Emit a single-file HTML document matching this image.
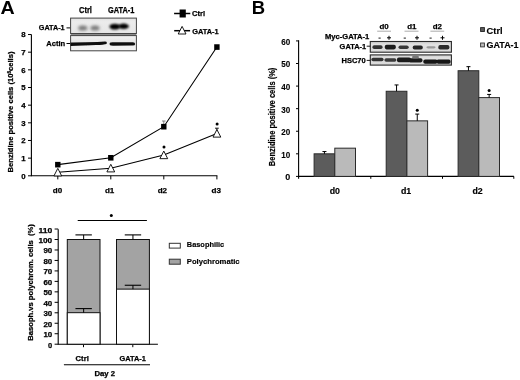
<!DOCTYPE html>
<html><head><meta charset="utf-8"><style>
html,body{margin:0;padding:0;background:#fff;}
svg{display:block;will-change:transform;filter:blur(0.25px);font-family:"Liberation Sans", sans-serif;}
</style></head><body>
<svg width="520" height="380" viewBox="0 0 520 380">
<rect width="520" height="380" fill="#fff"/>
<defs><filter id="bl" x="-50%" y="-50%" width="200%" height="200%"><feGaussianBlur stdDeviation="1.5"/></filter><filter id="bl2" x="-50%" y="-50%" width="200%" height="200%"><feGaussianBlur stdDeviation="0.7"/></filter><filter id="bl4" x="-50%" y="-50%" width="200%" height="200%"><feGaussianBlur stdDeviation="1.1"/></filter><filter id="bl3" x="-50%" y="-50%" width="200%" height="200%"><feGaussianBlur stdDeviation="0.45"/></filter><linearGradient id="gA2" x1="0" y1="0" x2="0" y2="1"><stop offset="0" stop-color="#f2f2f2"/><stop offset="0.4" stop-color="#e8e8e8"/><stop offset="0.7" stop-color="#f0f0f0"/><stop offset="1" stop-color="#f4f4f4"/></linearGradient><linearGradient id="gA" x1="0" y1="0" x2="0" y2="1"><stop offset="0" stop-color="#e2e2e2"/><stop offset="0.25" stop-color="#ececec"/><stop offset="1" stop-color="#e6e6e6"/></linearGradient></defs>
<text x="0.6" y="14.0" font-size="18.5" text-anchor="start" font-weight="bold" fill="#000" textLength="14.2" lengthAdjust="spacingAndGlyphs" >A</text>
<text x="251.8" y="13.9" font-size="18.5" text-anchor="start" font-weight="bold" fill="#000" >B</text>
<line x1="31.4" y1="34.4" x2="31.4" y2="176.3" stroke="#000" stroke-width="1.1"/>
<line x1="28.0" y1="175.8" x2="31.4" y2="175.8" stroke="#000" stroke-width="1"/>
<text x="25.5" y="178.55" font-size="7.8" text-anchor="end" font-weight="bold" fill="#000" stroke="#000" stroke-width="0.25" >0</text>
<line x1="28.0" y1="158.14000000000001" x2="31.4" y2="158.14000000000001" stroke="#000" stroke-width="1"/>
<text x="25.5" y="160.89000000000001" font-size="7.8" text-anchor="end" font-weight="bold" fill="#000" stroke="#000" stroke-width="0.25" >1</text>
<line x1="28.0" y1="140.48000000000002" x2="31.4" y2="140.48000000000002" stroke="#000" stroke-width="1"/>
<text x="25.5" y="143.23000000000002" font-size="7.8" text-anchor="end" font-weight="bold" fill="#000" stroke="#000" stroke-width="0.25" >2</text>
<line x1="28.0" y1="122.82000000000001" x2="31.4" y2="122.82000000000001" stroke="#000" stroke-width="1"/>
<text x="25.5" y="125.57000000000001" font-size="7.8" text-anchor="end" font-weight="bold" fill="#000" stroke="#000" stroke-width="0.25" >3</text>
<line x1="28.0" y1="105.16000000000001" x2="31.4" y2="105.16000000000001" stroke="#000" stroke-width="1"/>
<text x="25.5" y="107.91000000000001" font-size="7.8" text-anchor="end" font-weight="bold" fill="#000" stroke="#000" stroke-width="0.25" >4</text>
<line x1="28.0" y1="87.50000000000001" x2="31.4" y2="87.50000000000001" stroke="#000" stroke-width="1"/>
<text x="25.5" y="90.25000000000001" font-size="7.8" text-anchor="end" font-weight="bold" fill="#000" stroke="#000" stroke-width="0.25" >5</text>
<line x1="28.0" y1="69.84" x2="31.4" y2="69.84" stroke="#000" stroke-width="1"/>
<text x="25.5" y="72.59" font-size="7.8" text-anchor="end" font-weight="bold" fill="#000" stroke="#000" stroke-width="0.25" >6</text>
<line x1="28.0" y1="52.18000000000001" x2="31.4" y2="52.18000000000001" stroke="#000" stroke-width="1"/>
<text x="25.5" y="54.93000000000001" font-size="7.8" text-anchor="end" font-weight="bold" fill="#000" stroke="#000" stroke-width="0.25" >7</text>
<line x1="28.0" y1="34.52000000000001" x2="31.4" y2="34.52000000000001" stroke="#000" stroke-width="1"/>
<text x="25.5" y="37.27000000000001" font-size="7.8" text-anchor="end" font-weight="bold" fill="#000" stroke="#000" stroke-width="0.25" >8</text>
<line x1="31.4" y1="175.8" x2="217.4" y2="175.8" stroke="#000" stroke-width="1.1"/>
<line x1="57.8" y1="175.8" x2="57.8" y2="179.4" stroke="#000" stroke-width="1"/>
<text x="57.5" y="192.8" font-size="7.8" text-anchor="middle" font-weight="bold" fill="#000" stroke="#000" stroke-width="0.25" textLength="9.4" lengthAdjust="spacingAndGlyphs" >d0</text>
<line x1="110.8" y1="175.8" x2="110.8" y2="179.4" stroke="#000" stroke-width="1"/>
<text x="109.6" y="192.8" font-size="7.8" text-anchor="middle" font-weight="bold" fill="#000" stroke="#000" stroke-width="0.25" textLength="9.4" lengthAdjust="spacingAndGlyphs" >d1</text>
<line x1="163.8" y1="175.8" x2="163.8" y2="179.4" stroke="#000" stroke-width="1"/>
<text x="162.4" y="192.8" font-size="7.8" text-anchor="middle" font-weight="bold" fill="#000" stroke="#000" stroke-width="0.25" textLength="9.4" lengthAdjust="spacingAndGlyphs" >d2</text>
<line x1="216.9" y1="175.8" x2="216.9" y2="179.4" stroke="#000" stroke-width="1"/>
<text x="216.3" y="192.8" font-size="7.8" text-anchor="middle" font-weight="bold" fill="#000" stroke="#000" stroke-width="0.25" textLength="9.4" lengthAdjust="spacingAndGlyphs" >d3</text>
<text transform="translate(13.4,112.0) rotate(-90)" font-size="7.6" font-weight="bold" stroke="#000" stroke-width="0.25" text-anchor="middle" textLength="121" lengthAdjust="spacingAndGlyphs">Benzidine positive cells (10<tspan font-size="4.6" dy="-2.4">6</tspan><tspan dy="2.4">cells)</tspan></text>
<polyline points="57.8,164.67 110.8,157.79 163.8,126.71 216.9,47.06" fill="none" stroke="#000" stroke-width="1.1"/>
<polyline points="57.8,172.27 110.8,168.21 163.8,154.96 216.9,133.42" fill="none" stroke="#000" stroke-width="1.1"/>
<line x1="163.8" y1="126.70520000000002" x2="163.8" y2="121" stroke="#666" stroke-width="0.8"/>
<line x1="162" y1="121" x2="165.6" y2="121" stroke="#666" stroke-width="0.8"/>
<line x1="216.9" y1="133.416" x2="216.9" y2="128.2" stroke="#000" stroke-width="0.9"/>
<line x1="215" y1="128.2" x2="218.8" y2="128.2" stroke="#000" stroke-width="0.9"/>
<rect x="55.099999999999994" y="161.8742" width="5.4" height="5.6" fill="#000"/>
<rect x="108.1" y="154.9868" width="5.4" height="5.6" fill="#000"/>
<rect x="161.10000000000002" y="123.90520000000002" width="5.4" height="5.6" fill="#000"/>
<rect x="214.20000000000002" y="44.258600000000015" width="5.4" height="5.6" fill="#000"/>
<polygon points="57.8,168.368 53.9,175.968 61.699999999999996,175.968" fill="#fff" stroke="#000" stroke-width="0.9"/>
<polygon points="110.8,164.30620000000002 106.89999999999999,171.9062 114.7,171.9062" fill="#fff" stroke="#000" stroke-width="0.9"/>
<polygon points="163.8,151.0612 159.9,158.6612 167.70000000000002,158.6612" fill="#fff" stroke="#000" stroke-width="0.9"/>
<polygon points="216.9,129.516 213.0,137.11599999999999 220.8,137.11599999999999" fill="#fff" stroke="#000" stroke-width="0.9"/>
<circle cx="164" cy="146.9" r="1.5" fill="#000"/>
<circle cx="217.1" cy="123.9" r="1.5" fill="#000"/>
<line x1="174.1" y1="13.5" x2="190.3" y2="13.5" stroke="#000" stroke-width="1.5"/>
<rect x="179.6" y="9.5" width="6.2" height="8.0" fill="#000"/>
<text x="192.1" y="15.7" font-size="7.8" text-anchor="start" font-weight="bold" fill="#000" stroke="#000" stroke-width="0.25" textLength="13.0" lengthAdjust="spacingAndGlyphs" >Ctrl</text>
<line x1="174.2" y1="30.7" x2="190.1" y2="30.7" stroke="#000" stroke-width="1.5"/>
<polygon points="182.1,26.400000000000002 178.2,34.0 186.0,34.0" fill="#fff" stroke="#000" stroke-width="0.9"/>
<text x="192.2" y="34.2" font-size="7.3" text-anchor="start" font-weight="bold" fill="#000" stroke="#000" stroke-width="0.25" textLength="26.4" lengthAdjust="spacingAndGlyphs" >GATA-1</text>
<rect x="70.6" y="33.6" width="65.8" height="2.2" fill="#8a8a8a"/>
<rect x="70.6" y="18.1" width="65.8" height="15.4" fill="url(#gA)" stroke="#444" stroke-width="1.0"/>
<ellipse cx="82.8" cy="28" rx="4.6" ry="2.6" fill="#7a7a7a" filter="url(#bl)"/>
<ellipse cx="95" cy="28" rx="4.6" ry="2.6" fill="#7a7a7a" filter="url(#bl)"/>
<ellipse cx="114.8" cy="26.6" rx="5.4" ry="2.9" fill="#000" filter="url(#bl4)"/>
<ellipse cx="123.6" cy="26.3" rx="5.2" ry="2.7" fill="#000" filter="url(#bl4)"/>
<rect x="70.6" y="35.6" width="65.8" height="15.2" fill="url(#gA2)" stroke="#444" stroke-width="1.0"/>
<path d="M70.6,42.5 L85,42.3 Q100,42.0 104.5,41.6 Q106.3,41.4 106.8,42.0 L106.6,43.9 Q104,44.6 96,45.1 Q85,45.8 70.6,45.9 Z" fill="#111" filter="url(#bl3)"/>
<path d="M109.6,42.9 Q110.4,42.2 113,42.3 L133,42.3 Q135,42.4 135.2,43.9 Q135,45.6 133,45.6 L113,45.8 Q110.4,45.7 109.8,45.0 Z" fill="#111" filter="url(#bl3)"/>
<text x="79" y="13.25" font-size="8.3" text-anchor="start" font-weight="bold" fill="#000" stroke="#000" stroke-width="0.25" textLength="12.9" lengthAdjust="spacingAndGlyphs" >Ctrl</text>
<text x="108" y="13.25" font-size="8.3" text-anchor="start" font-weight="bold" fill="#000" stroke="#000" stroke-width="0.25" textLength="26.4" lengthAdjust="spacingAndGlyphs" >GATA-1</text>
<text x="38.8" y="30" font-size="7.3" text-anchor="start" font-weight="bold" fill="#000" stroke="#000" stroke-width="0.25" textLength="25.8" lengthAdjust="spacingAndGlyphs" >GATA-1</text>
<text x="46.3" y="46.2" font-size="7.3" text-anchor="start" font-weight="bold" fill="#000" stroke="#000" stroke-width="0.25" textLength="18.9" lengthAdjust="spacingAndGlyphs" >Actin</text>
<line x1="66.5" y1="27.9" x2="70.1" y2="27.9" stroke="#000" stroke-width="1"/>
<line x1="66.5" y1="43.5" x2="70.1" y2="43.5" stroke="#000" stroke-width="1"/>
<line x1="58.2" y1="229.2" x2="58.2" y2="344.7" stroke="#000" stroke-width="1.1"/>
<line x1="54.6" y1="344.2" x2="58.2" y2="344.2" stroke="#000" stroke-width="1"/>
<text x="52.2" y="347.7" font-size="7.5" text-anchor="end" font-weight="bold" fill="#000" stroke="#000" stroke-width="0.25" >0</text>
<line x1="54.6" y1="333.73" x2="58.2" y2="333.73" stroke="#000" stroke-width="1"/>
<text x="52.2" y="337.23" font-size="7.5" text-anchor="end" font-weight="bold" fill="#000" stroke="#000" stroke-width="0.25" textLength="8.8" lengthAdjust="spacingAndGlyphs" >10</text>
<line x1="54.6" y1="323.26" x2="58.2" y2="323.26" stroke="#000" stroke-width="1"/>
<text x="52.2" y="326.76" font-size="7.5" text-anchor="end" font-weight="bold" fill="#000" stroke="#000" stroke-width="0.25" textLength="8.8" lengthAdjust="spacingAndGlyphs" >20</text>
<line x1="54.6" y1="312.78999999999996" x2="58.2" y2="312.78999999999996" stroke="#000" stroke-width="1"/>
<text x="52.2" y="316.28999999999996" font-size="7.5" text-anchor="end" font-weight="bold" fill="#000" stroke="#000" stroke-width="0.25" textLength="8.8" lengthAdjust="spacingAndGlyphs" >30</text>
<line x1="54.6" y1="302.32" x2="58.2" y2="302.32" stroke="#000" stroke-width="1"/>
<text x="52.2" y="305.82" font-size="7.5" text-anchor="end" font-weight="bold" fill="#000" stroke="#000" stroke-width="0.25" textLength="8.8" lengthAdjust="spacingAndGlyphs" >40</text>
<line x1="54.6" y1="291.85" x2="58.2" y2="291.85" stroke="#000" stroke-width="1"/>
<text x="52.2" y="295.35" font-size="7.5" text-anchor="end" font-weight="bold" fill="#000" stroke="#000" stroke-width="0.25" textLength="8.8" lengthAdjust="spacingAndGlyphs" >50</text>
<line x1="54.6" y1="281.38" x2="58.2" y2="281.38" stroke="#000" stroke-width="1"/>
<text x="52.2" y="284.88" font-size="7.5" text-anchor="end" font-weight="bold" fill="#000" stroke="#000" stroke-width="0.25" textLength="8.8" lengthAdjust="spacingAndGlyphs" >60</text>
<line x1="54.6" y1="270.90999999999997" x2="58.2" y2="270.90999999999997" stroke="#000" stroke-width="1"/>
<text x="52.2" y="274.40999999999997" font-size="7.5" text-anchor="end" font-weight="bold" fill="#000" stroke="#000" stroke-width="0.25" textLength="8.8" lengthAdjust="spacingAndGlyphs" >70</text>
<line x1="54.6" y1="260.44" x2="58.2" y2="260.44" stroke="#000" stroke-width="1"/>
<text x="52.2" y="263.94" font-size="7.5" text-anchor="end" font-weight="bold" fill="#000" stroke="#000" stroke-width="0.25" textLength="8.8" lengthAdjust="spacingAndGlyphs" >80</text>
<line x1="54.6" y1="249.97" x2="58.2" y2="249.97" stroke="#000" stroke-width="1"/>
<text x="52.2" y="253.47" font-size="7.5" text-anchor="end" font-weight="bold" fill="#000" stroke="#000" stroke-width="0.25" textLength="8.8" lengthAdjust="spacingAndGlyphs" >90</text>
<line x1="54.6" y1="239.5" x2="58.2" y2="239.5" stroke="#000" stroke-width="1"/>
<text x="52.2" y="243.0" font-size="7.5" text-anchor="end" font-weight="bold" fill="#000" stroke="#000" stroke-width="0.25" textLength="13.8" lengthAdjust="spacingAndGlyphs" >100</text>
<line x1="54.6" y1="229.03" x2="58.2" y2="229.03" stroke="#000" stroke-width="1"/>
<text x="52.2" y="232.53" font-size="7.5" text-anchor="end" font-weight="bold" fill="#000" stroke="#000" stroke-width="0.25" textLength="13.8" lengthAdjust="spacingAndGlyphs" >110</text>
<line x1="58.2" y1="344.2" x2="157.9" y2="344.2" stroke="#000" stroke-width="1.1"/>
<line x1="83.5" y1="344.2" x2="83.5" y2="347.2" stroke="#000" stroke-width="1"/>
<line x1="132.8" y1="344.2" x2="132.8" y2="347.2" stroke="#000" stroke-width="1"/>
<rect x="67.3" y="239.5" width="32.7" height="104.69999999999999" fill="#a3a3a3" stroke="#111" stroke-width="1"/>
<rect x="67.3" y="312.6853" width="32.7" height="31.514699999999998" fill="#fff" stroke="#111" stroke-width="1"/>
<line x1="83.65" y1="239.5" x2="83.65" y2="234.89319999999998" stroke="#000" stroke-width="1"/>
<line x1="75.45" y1="234.89319999999998" x2="91.85000000000001" y2="234.89319999999998" stroke="#000" stroke-width="1.1"/>
<line x1="83.65" y1="312.6853" x2="83.65" y2="308.602" stroke="#000" stroke-width="1"/>
<line x1="75.45" y1="308.602" x2="91.85000000000001" y2="308.602" stroke="#000" stroke-width="1.1"/>
<rect x="116.5" y="239.5" width="32.900000000000006" height="104.69999999999999" fill="#a3a3a3" stroke="#111" stroke-width="1"/>
<rect x="116.5" y="289.1278" width="32.900000000000006" height="55.072199999999995" fill="#fff" stroke="#111" stroke-width="1"/>
<line x1="132.95" y1="239.5" x2="132.95" y2="234.89319999999998" stroke="#000" stroke-width="1"/>
<line x1="124.74999999999999" y1="234.89319999999998" x2="141.14999999999998" y2="234.89319999999998" stroke="#000" stroke-width="1.1"/>
<line x1="132.95" y1="289.1278" x2="132.95" y2="285.2539" stroke="#000" stroke-width="1"/>
<line x1="124.74999999999999" y1="285.2539" x2="141.14999999999998" y2="285.2539" stroke="#000" stroke-width="1.1"/>
<line x1="77.7" y1="220.5" x2="146.9" y2="220.5" stroke="#000" stroke-width="1.2"/>
<circle cx="111.3" cy="215.6" r="1.5" fill="#000"/>
<text x="82.2" y="360.9" font-size="7.3" text-anchor="middle" font-weight="bold" fill="#000" stroke="#000" stroke-width="0.25" textLength="13.2" lengthAdjust="spacingAndGlyphs" >Ctrl</text>
<text x="132.7" y="360.9" font-size="7.3" text-anchor="middle" font-weight="bold" fill="#000" stroke="#000" stroke-width="0.25" textLength="26.4" lengthAdjust="spacingAndGlyphs" >GATA-1</text>
<line x1="63.9" y1="364.8" x2="150" y2="364.8" stroke="#000" stroke-width="1.1"/>
<text x="104.7" y="376.2" font-size="7.3" text-anchor="middle" font-weight="bold" fill="#000" stroke="#000" stroke-width="0.25" textLength="20.6" lengthAdjust="spacingAndGlyphs" >Day 2</text>
<text transform="translate(33.3,282.4) rotate(-90)" font-size="7.5" font-weight="bold" stroke="#000" stroke-width="0.25" text-anchor="middle" textLength="116.5" lengthAdjust="spacingAndGlyphs">Basoph.vs polychrom. cells&#160; (%)</text>
<rect x="169.3" y="243.3" width="11" height="4.8" fill="#fff" stroke="#333" stroke-width="1"/>
<rect x="169.3" y="259.2" width="11" height="5" fill="#a3a3a3" stroke="#333" stroke-width="1"/>
<g transform="translate(186.8,247.2) scale(1,1.07)"><text x="0" y="0" font-size="7.4" font-weight="bold" stroke="#000" stroke-width="0.15" textLength="37.4" lengthAdjust="spacingAndGlyphs">Basophilic</text></g>
<g transform="translate(186.8,263.6) scale(1,1.07)"><text x="0" y="0" font-size="7.4" font-weight="bold" stroke="#000" stroke-width="0.15" textLength="52.8" lengthAdjust="spacingAndGlyphs">Polychromatic</text></g>
<line x1="298.6" y1="40.3" x2="298.6" y2="178.70000000000002" stroke="#000" stroke-width="1.1"/>
<line x1="296.0" y1="176.4" x2="298.6" y2="176.4" stroke="#000" stroke-width="1"/>
<text x="290.2" y="180.3" font-size="9" text-anchor="end" font-weight="bold" fill="#000" stroke="#000" stroke-width="0.1" >0</text>
<line x1="296.0" y1="153.82" x2="298.6" y2="153.82" stroke="#000" stroke-width="1"/>
<text x="290.2" y="157.72" font-size="9" text-anchor="end" font-weight="bold" fill="#000" stroke="#000" stroke-width="0.1" textLength="9.0" lengthAdjust="spacingAndGlyphs" >10</text>
<line x1="296.0" y1="131.24" x2="298.6" y2="131.24" stroke="#000" stroke-width="1"/>
<text x="290.2" y="135.14000000000001" font-size="9" text-anchor="end" font-weight="bold" fill="#000" stroke="#000" stroke-width="0.1" textLength="9.0" lengthAdjust="spacingAndGlyphs" >20</text>
<line x1="296.0" y1="108.66000000000001" x2="298.6" y2="108.66000000000001" stroke="#000" stroke-width="1"/>
<text x="290.2" y="112.56000000000002" font-size="9" text-anchor="end" font-weight="bold" fill="#000" stroke="#000" stroke-width="0.1" textLength="9.0" lengthAdjust="spacingAndGlyphs" >30</text>
<line x1="296.0" y1="86.08000000000001" x2="298.6" y2="86.08000000000001" stroke="#000" stroke-width="1"/>
<text x="290.2" y="89.98000000000002" font-size="9" text-anchor="end" font-weight="bold" fill="#000" stroke="#000" stroke-width="0.1" textLength="9.0" lengthAdjust="spacingAndGlyphs" >40</text>
<line x1="296.0" y1="63.5" x2="298.6" y2="63.5" stroke="#000" stroke-width="1"/>
<text x="290.2" y="67.4" font-size="9" text-anchor="end" font-weight="bold" fill="#000" stroke="#000" stroke-width="0.1" textLength="9.0" lengthAdjust="spacingAndGlyphs" >50</text>
<line x1="296.0" y1="40.920000000000016" x2="298.6" y2="40.920000000000016" stroke="#000" stroke-width="1"/>
<text x="290.2" y="44.820000000000014" font-size="9" text-anchor="end" font-weight="bold" fill="#000" stroke="#000" stroke-width="0.1" textLength="9.0" lengthAdjust="spacingAndGlyphs" >60</text>
<line x1="298.6" y1="176.4" x2="513.9" y2="176.4" stroke="#000" stroke-width="1.1"/>
<line x1="370.8" y1="176.4" x2="370.8" y2="178.8" stroke="#000" stroke-width="1"/>
<line x1="442.5" y1="176.4" x2="442.5" y2="178.8" stroke="#000" stroke-width="1"/>
<line x1="513.8" y1="176.4" x2="513.8" y2="178.8" stroke="#000" stroke-width="1"/>
<text transform="translate(274.9,116.9) rotate(-90)" font-size="9" font-weight="bold" stroke="#000" stroke-width="0.2" text-anchor="middle" textLength="98.5" lengthAdjust="spacingAndGlyphs">Benzidine positive cells (%)</text>
<rect x="314.1" y="153.82" width="20.7" height="22.58" fill="#5c5c5c" stroke="#2a2a2a" stroke-width="1"/>
<rect x="334.8" y="148.175" width="20.7" height="28.225" fill="#bababa" stroke="#2a2a2a" stroke-width="1"/>
<line x1="324.45" y1="153.82" x2="324.45" y2="151.562" stroke="#000" stroke-width="1"/>
<line x1="322.45" y1="151.562" x2="326.45" y2="151.562" stroke="#000" stroke-width="1"/>
<text x="334.85" y="194.0" font-size="8.8" text-anchor="middle" font-weight="bold" fill="#000" stroke="#000" stroke-width="0.15" >d0</text>
<rect x="386.2" y="91.2734" width="20.7" height="85.12660000000001" fill="#5c5c5c" stroke="#2a2a2a" stroke-width="1"/>
<rect x="406.9" y="120.8532" width="20.7" height="55.546800000000005" fill="#bababa" stroke="#2a2a2a" stroke-width="1"/>
<line x1="396.54999999999995" y1="91.2734" x2="396.54999999999995" y2="84.95100000000001" stroke="#000" stroke-width="1"/>
<line x1="394.54999999999995" y1="84.95100000000001" x2="398.54999999999995" y2="84.95100000000001" stroke="#000" stroke-width="1"/>
<line x1="417.25" y1="120.8532" x2="417.25" y2="114.0792" stroke="#000" stroke-width="1"/>
<line x1="415.25" y1="114.0792" x2="419.25" y2="114.0792" stroke="#000" stroke-width="1"/>
<circle cx="417.25" cy="110.18" r="1.5" fill="#000"/>
<text x="406.15" y="194.0" font-size="8.8" text-anchor="middle" font-weight="bold" fill="#000" stroke="#000" stroke-width="0.15" >d1</text>
<rect x="458.1" y="70.72560000000001" width="20.7" height="105.67439999999999" fill="#5c5c5c" stroke="#2a2a2a" stroke-width="1"/>
<rect x="478.8" y="97.59580000000001" width="20.7" height="78.8042" fill="#bababa" stroke="#2a2a2a" stroke-width="1"/>
<line x1="468.45" y1="70.72560000000001" x2="468.45" y2="66.66120000000002" stroke="#000" stroke-width="1"/>
<line x1="466.45" y1="66.66120000000002" x2="470.45" y2="66.66120000000002" stroke="#000" stroke-width="1"/>
<line x1="489.15000000000003" y1="97.59580000000001" x2="489.15000000000003" y2="94.43460000000002" stroke="#000" stroke-width="1"/>
<line x1="487.15000000000003" y1="94.43460000000002" x2="491.15000000000003" y2="94.43460000000002" stroke="#000" stroke-width="1"/>
<circle cx="489.15000000000003" cy="90.53" r="1.5" fill="#000"/>
<text x="477.65" y="194.0" font-size="8.8" text-anchor="middle" font-weight="bold" fill="#000" stroke="#000" stroke-width="0.15" >d2</text>
<rect x="480.6" y="27.6" width="3.8" height="3.9" fill="#5c5c5c" stroke="#222" stroke-width="0.9"/>
<rect x="480.6" y="43" width="3.8" height="3.9" fill="#bababa" stroke="#333" stroke-width="0.9"/>
<text x="486.6" y="33.7" font-size="9" text-anchor="start" font-weight="bold" fill="#000" stroke="#000" stroke-width="0.15" textLength="16" lengthAdjust="spacingAndGlyphs" >Ctrl</text>
<text x="486.6" y="48.1" font-size="8.4" text-anchor="start" font-weight="bold" fill="#000" stroke="#000" stroke-width="0.15" textLength="32" lengthAdjust="spacingAndGlyphs" >GATA-1</text>
<linearGradient id="gB" x1="0" y1="0" x2="0" y2="1"><stop offset="0" stop-color="#cdcdcd"/><stop offset="0.3" stop-color="#e2e2e2"/><stop offset="1" stop-color="#d8d8d8"/></linearGradient>
<rect x="370.3" y="41.5" width="81.1" height="10.7" fill="url(#gB)" stroke="#2a2a2a" stroke-width="1.1"/>
<rect x="370.3" y="54.9" width="81.1" height="10.2" fill="url(#gB)" stroke="#2a2a2a" stroke-width="1.1"/>
<rect x="372.4" y="45.2" width="10.2" height="3.8" rx="1.8" fill="#333" filter="url(#bl2)"/>
<rect x="384.8" y="44.7" width="11.0" height="4.7" rx="1.8" fill="#1e1e1e" filter="url(#bl2)"/>
<rect x="398.5" y="45.4" width="10.2" height="3.6" rx="1.8" fill="#383838" filter="url(#bl2)"/>
<rect x="412.7" y="45.4" width="10.1" height="4.1" rx="1.8" fill="#262626" filter="url(#bl2)"/>
<rect x="426.4" y="46.2" width="9.2" height="2.3" rx="1.8" fill="#999" filter="url(#bl2)"/>
<rect x="438.3" y="45.1" width="11.1" height="4.4" rx="1.8" fill="#2a2a2a" filter="url(#bl2)"/>
<rect x="371.3" y="57.8" width="12.3" height="3.4" rx="1.8" fill="#333" filter="url(#bl2)"/>
<rect x="384.4" y="58.2" width="12.0" height="3.5" rx="1.8" fill="#3a3a3a" filter="url(#bl2)"/>
<rect x="397" y="57.4" width="14.0" height="4.8" rx="1.8" fill="#1c1c1c" filter="url(#bl2)"/>
<rect x="408.5" y="58.3" width="14.0" height="4.1" rx="1.8" fill="#1e1e1e" filter="url(#bl2)"/>
<rect x="423.3" y="59.4" width="14.2" height="4.4" rx="1.8" fill="#161616" filter="url(#bl2)"/>
<rect x="436.5" y="59.4" width="14.1" height="4.4" rx="1.8" fill="#161616" filter="url(#bl2)"/>
<ellipse cx="415.5" cy="57" rx="3.5" ry="1.6" fill="#777" filter="url(#bl2)"/>
<text x="384" y="29.35" font-size="7.9" text-anchor="middle" font-weight="bold" fill="#000" stroke="#000" stroke-width="0.25" >d0</text>
<text x="411.8" y="29.35" font-size="7.9" text-anchor="middle" font-weight="bold" fill="#000" stroke="#000" stroke-width="0.25" >d1</text>
<text x="437.3" y="29.35" font-size="7.9" text-anchor="middle" font-weight="bold" fill="#000" stroke="#000" stroke-width="0.25" >d2</text>
<line x1="377.2" y1="31.2" x2="391" y2="31.2" stroke="#888" stroke-width="0.7"/>
<line x1="404.5" y1="31.2" x2="418.5" y2="31.2" stroke="#888" stroke-width="0.7"/>
<line x1="430.4" y1="31.2" x2="444.2" y2="31.2" stroke="#888" stroke-width="0.7"/>
<line x1="378.5" y1="38.1" x2="380.70000000000005" y2="38.1" stroke="#000" stroke-width="0.9"/>
<line x1="387" y1="37.8" x2="391" y2="37.8" stroke="#000" stroke-width="1.0"/>
<line x1="389" y1="35.8" x2="389" y2="39.8" stroke="#000" stroke-width="1.0"/>
<line x1="403.7" y1="38.1" x2="405.90000000000003" y2="38.1" stroke="#000" stroke-width="0.9"/>
<line x1="415" y1="37.8" x2="419" y2="37.8" stroke="#000" stroke-width="1.0"/>
<line x1="417" y1="35.8" x2="417" y2="39.8" stroke="#000" stroke-width="1.0"/>
<line x1="429.5" y1="38.1" x2="431.70000000000005" y2="38.1" stroke="#000" stroke-width="0.9"/>
<line x1="440.5" y1="37.8" x2="444.5" y2="37.8" stroke="#000" stroke-width="1.0"/>
<line x1="442.5" y1="35.8" x2="442.5" y2="39.8" stroke="#000" stroke-width="1.0"/>
<text x="325" y="39" font-size="7.3" text-anchor="start" font-weight="bold" fill="#000" stroke="#000" stroke-width="0.25" textLength="44.3" lengthAdjust="spacingAndGlyphs" >Myc-GATA-1</text>
<text x="339.6" y="48.9" font-size="7.3" text-anchor="start" font-weight="bold" fill="#000" stroke="#000" stroke-width="0.25" textLength="26.6" lengthAdjust="spacingAndGlyphs" >GATA-1</text>
<text x="341.5" y="62.7" font-size="7.3" text-anchor="start" font-weight="bold" fill="#000" stroke="#000" stroke-width="0.25" textLength="24.2" lengthAdjust="spacingAndGlyphs" >HSC70</text>
<line x1="366.7" y1="46.2" x2="370.3" y2="46.2" stroke="#000" stroke-width="0.9"/>
<line x1="366.7" y1="60.4" x2="370.3" y2="60.4" stroke="#000" stroke-width="0.9"/>
</svg></body></html>
